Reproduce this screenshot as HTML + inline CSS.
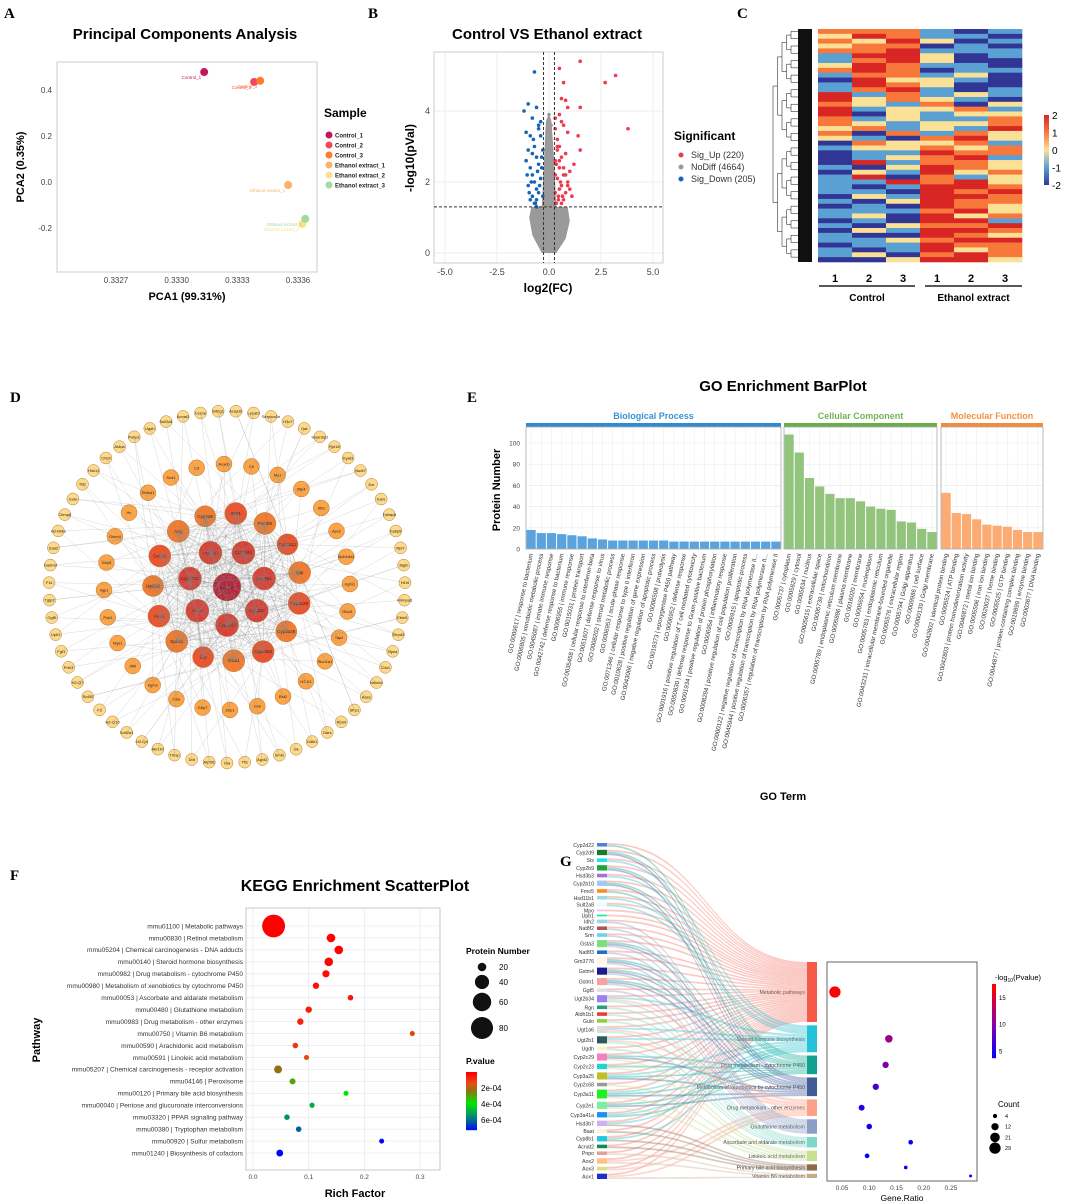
<!DOCTYPE html>
<html><head><meta charset="utf-8"><style>
html,body{margin:0;padding:0;background:#fff;}
svg{display:block;font-family:"Liberation Sans",sans-serif;}
.pl{font-family:"Liberation Serif",serif;font-weight:bold;font-size:15px;}
</style></head><body>
<svg id="s" width="1065" height="1203" viewBox="0 0 1065 1203" xmlns="http://www.w3.org/2000/svg">
<rect x="0" y="0" width="1065" height="1203" fill="#fff"/>
<text class="pl" x="4" y="18">A</text>
<text class="pl" x="368" y="18">B</text>
<text class="pl" x="737" y="18">C</text>
<text class="pl" x="10" y="402">D</text>
<text class="pl" x="467" y="402">E</text>
<text class="pl" x="10" y="880">F</text>
<text class="pl" x="560" y="866">G</text>
</svg>
<script>
// ---------- data ----------
const pcaNames=["Control_1","Control_2","Control_3","Ethanol extract_1","Ethanol extract_2","Ethanol extract_3"];
const pcaX=[0.333136,0.333383,0.333413,0.333551,0.333621,0.333636];
const pcaY=[0.478,0.435,0.440,-0.013,-0.183,-0.160];
const pcaXTicks=[0.3327,0.3330,0.3333,0.3336];
const pcaYTicks=[-0.2,0.0,0.2,0.4];

const upX=[1.5,3.2,2.7,0.5,0.7,3.8,0.6,0.8,0.9,1.5,0.5,0.6,1.4,0.7,0.4,0.9,1.5,0.5,0.3,0.8,0.6,1.2,1.0,0.4,0.5,0.7,0.9,0.3,0.6,0.8,1.1,0.4,0.5,0.7,0.35,0.45,0.6,0.3,0.9,0.5,0.4,0.7,0.3,0.55,0.8,1.0,0.35,0.65,0.45,0.3];
const upY=[5.4,5.0,4.8,5.2,4.8,3.5,4.35,4.3,4.1,4.1,3.9,3.7,3.3,3.6,3.2,3.4,2.9,3.0,3.5,2.8,2.7,2.5,2.3,2.9,2.4,2.2,2.0,2.6,1.9,1.7,1.6,2.1,1.8,1.5,1.4,1.6,1.4,2.2,1.9,2.6,3.0,2.4,1.7,2.0,2.2,1.8,2.5,1.6,1.5,3.8];
const downX=[-0.7,-1.0,-1.2,-1.1,-0.9,-0.6,-1.0,-0.8,-0.5,-0.7,-1.1,-0.4,-0.9,-0.6,-0.8,-0.5,-0.7,-0.3,-1.0,-0.6,-0.8,-0.4,-0.9,-0.5,-0.7,-0.35,-0.6,-0.8,-0.45,-1.05,-0.55,-0.3,-0.75,-0.4,-0.65,-0.95,-0.5,-0.85,-0.35,-0.6];
const downY=[5.1,4.2,4.0,3.4,3.3,4.1,2.9,3.8,3.6,3.0,2.6,3.3,2.4,2.7,2.2,2.5,2.0,2.9,1.9,1.8,1.6,2.1,1.5,1.7,1.4,2.4,1.5,2.8,1.9,2.2,2.3,1.6,3.2,3.7,1.4,1.7,3.5,2.0,2.7,1.3];
const grayX=[0.0,0.1,-0.1,0.05,-0.05,0.15,-0.15,0.2,-0.2,0.0,0.1,-0.1,0.6,-0.6,0.7,-0.7,0.5,-0.5,0.0,0.1,-0.1,0.2,-0.2,0.8,-0.8,0.05];
const grayY=[3.9,3.6,3.4,3.1,2.8,2.6,2.4,2.2,2.0,1.8,1.6,1.5,1.1,1.0,0.7,0.6,0.4,0.3,0.05,0.2,0.15,0.9,1.2,0.9,0.8,2.9];
const grayBlobX=[-0.35,-0.8,-0.95,-0.85,-0.35,-0.25,-0.15,0.0,0.12,0.25,0.35,0.9,1.0,0.8,0.35];
const grayBlobY=[0.0,0.5,1.0,1.3,1.3,2.5,3.7,3.95,3.7,2.6,1.3,1.3,0.9,0.4,0.0];
const volXTicks=[-5.0,-2.5,0.0,2.5,5.0];
const volYTicks=[0,2,4];

const heatRows=["333101","243110","324201","233010","334111","144201","134200","243110","343011","133120","042210","143200","134101",
"413121","423210","321302","412231","402122","312113","321223","231214","303132","210342","032231","122323",
"011433","012341","041332","102432","021423","140312","114342",
"101443","110434","021443","102433","010432","111342","120423","010441","102334","021443","100432","112344","011433","101423","120343","002442"];

const bpLabels=["GO:0009617 | response to bacterium","GO:0006805 | xenobiotic metabolic process","GO:0045087 | innate immune response","GO:0042742 | defense response to bacterium","GO:0006955 | immune response","GO:0015031 | protein transport","GO:0035458 | cellular response to interferon-beta","GO:0051607 | defense response to virus","GO:0008202 | steroid metabolic process","GO:0006953 | acute-phase response","GO:0071346 | cellular response to type II interferon","GO:0010628 | positive regulation of gene expression","GO:0043066 | negative regulation of apoptotic process","GO:0006508 | proteolysis","GO:0019373 | epoxygenase P450 pathway","GO:0006952 | defense response","GO:0001916 | positive regulation of T cell mediated cytotoxicity","GO:0050830 | defense response to Gram-positive bacterium","GO:0001934 | positive regulation of protein phosphorylation","GO:0006954 | inflammatory response","GO:0008284 | positive regulation of cell population proliferation","GO:0006915 | apoptotic process","GO:0000122 | negative regulation of transcription by RNA polymerase II...","GO:0045944 | positive regulation of transcription by RNA polymerase II...","GO:0006357 | regulation of transcription by RNA polymerase II"];
const bpValues=[18,15,15,14,13,12,10,9,8,8,8,8,8,8,7,7,7,7,7,7,7,7,7,7,7];
const ccLabels=["GO:0005737 | cytoplasm","GO:0005829 | cytosol","GO:0005634 | nucleus","GO:0005615 | extracellular space","GO:0005739 | mitochondrion","GO:0005789 | endoplasmic reticulum membrane","GO:0005886 | plasma membrane","GO:0016020 | membrane","GO:0005654 | nucleoplasm","GO:0005783 | endoplasmic reticulum","GO:0043231 | intracellular membrane-bounded organelle","GO:0005576 | extracellular region","GO:0005794 | Golgi apparatus","GO:0009986 | cell surface","GO:0000139 | Golgi membrane"];
const ccValues=[108,91,67,59,52,48,48,45,40,38,37,26,25,19,16];
const mfLabels=["GO:0042802 | identical protein binding","GO:0005524 | ATP binding","GO:0042803 | protein homodimerization activity","GO:0046872 | metal ion binding","GO:0005506 | iron ion binding","GO:0020037 | heme binding","GO:0005525 | GTP binding","GO:0044877 | protein-containing complex binding","GO:0019899 | enzyme binding","GO:0003677 | DNA binding"];
const mfValues=[53,34,33,28,23,22,21,18,16,16];
const goYTicks=[0,20,40,60,80,100];

const keggLabels=["mmu01100 | Metabolic pathways","mmu00830 | Retinol metabolism","mmu05204 | Chemical carcinogenesis - DNA adducts","mmu00140 | Steroid hormone biosynthesis","mmu00982 | Drug metabolism - cytochrome P450","mmu00980 | Metabolism of xenobiotics by cytochrome P450","mmu00053 | Ascorbate and aldarate metabolism","mmu00480 | Glutathione metabolism","mmu00983 | Drug metabolism - other enzymes","mmu00750 | Vitamin B6 metabolism","mmu00590 | Arachidonic acid metabolism","mmu00591 | Linoleic acid metabolism","mmu05207 | Chemical carcinogenesis - receptor activation","mmu04146 | Peroxisome","mmu00120 | Primary bile acid biosynthesis","mmu00040 | Pentose and glucuronate interconversions","mmu03320 | PPAR signaling pathway","mmu00380 | Tryptophan metabolism","mmu00920 | Sulfur metabolism","mmu01240 | Biosynthesis of cofactors"];
const keggRich=[0.037,0.14,0.154,0.136,0.131,0.113,0.175,0.1,0.085,0.286,0.076,0.096,0.045,0.071,0.167,0.106,0.061,0.082,0.231,0.048];
const keggCount=[85,20,20,20,16,14,12,14,14,8,12,11,18,13,10,11,12,12,9,15];
const keggP=[0.000001,0.000005,0.000008,0.00001,0.00002,0.00003,0.00004,0.00005,0.00006,0.0001,0.00009,0.00012,0.00022,0.00029,0.00038,0.00048,0.00053,0.0006,0.00071,0.00072];
const keggXTicks=[0.0,0.1,0.2,0.3];
const sizeLegend=[20,40,60,80];
const pLegend=[0.0002,0.0004,0.0006];

const pathNames=["Metabolic pathways","Steroid hormone biosynthesis","Drug metabolism - cytochrome P450","Metabolism of xenobiotics by cytochrome P450","Drug metabolism - other enzymes","Glutathione metabolism","Ascorbate and aldarate metabolism","Linoleic acid metabolism","Primary bile acid biosynthesis","Vitamin B6 metabolism"];
const pathCount=[29,13,9,9,8,7,5,5,3,2];
const pathRatio=[0.037,0.136,0.13,0.112,0.086,0.1,0.176,0.096,0.167,0.286];
const pathLogP=[17,11.5,9.5,7,5,4.5,4.2,4,3.8,3.7];
const geneNames=["Cyp2d22","Cyp2d9","Sts","Cyp2b9","Hsd3b3","Cyp2b10","Fmo5","Hsd11b1","Sult2a8","Mpo","Upb1","Idh2","Nat8f2","Srm","Gsta3","Nat8f3","Gm3776","Gstm4","Gstm1","Ggt5","Ugt2b34","Rgn","Aldh1b1","Gulo","Ugt1a6","Ugt2b1","Ugdh","Cyp2c29","Cyp2c23","Cyp3a25","Cyp2c68","Cyp3a11","Cyp2e1","Cyp3a41a","Hsd3b7","Baat","Cyp8b1","Acnat2","Pnpo","Aox2","Aox3","Aox1"];
const geneLinks=[[0,2],[0,2,3],[0,1],[0,2,3],[0,1],[0,2,3],[0,2],[0,1],[0,1],[0],[0],[0,5],[0,5],[0,5],[0,2,3,5],[0,5],[0,2,3,5],[0,2,3,5],[0,2,3,5],[0,5],[0,1,4,6],[0,6],[0,6],[0,6],[0,1,4,6],[0,1,4,6],[0,6],[0,2,3,7],[0,2,7],[0,1,2,3],[0,7],[0,1,2,3,7],[0,2,3,7],[0,1,2],[0,1,8],[0,8],[0,1,8],[0,8],[0,9],[0,4,9],[0,4],[0,4,9]];
const gXTicks=[0.05,0.10,0.15,0.20,0.25];
const countLegend=[4,12,21,29];
const logPTicks=[5,10,15];

const netCenter=["Ugt2b1"];
const netRing1=["Ugt1a5","Cyp3a11","Cyp2e1","Cyp2b9","Cyp2c23","Aox1","Cyp2b10"];
const netRing2=["Cyp2a5","Stat1","Psmb9","Cyp2a12","Igtp","Cyp2c29","Cyp3a25","Cyp2d68","Gsta1","Crp","Ephx1","Aox3","Ugt3a2","Gstm1","Acly"];
const netRing3=["C9","Me1","Rtp4","Ifit3","Apcs","Aldh18a1","Irgm1","Glud1","Tap2","Slco1a1","H2-K1","Bst2","Gck","Zbp1","Gbp7","C8a","Irgm2","Ifit4","Nqo1","Pck1","Iigp1","Gbp5","Gstm4","Hc","Dhtkd1","Scd1","C3","Acacb"];
const netOuter=["Acaa1b","Lpcat3","Serpina3n","H3c7","Oat","Selenbp2","Rpl18","Kyat3","Nudt7","Ezr","Kars","Tnfaip8","Fabp5","Rpl7","Tagln","H1f4","Hnrnpa3","Fbln5","Srrpd3","Nyna","Cdo1","Ndufa1","Aass","Sfrp1","Rpmf","Dars","Galk1","Gk","Smtn","Agxt2","Tfrc","Gla","Atp5f1","Ddt","Thrsp","Akr1b7","H2-Q4","Sult2a1","H2-Q10","F3","Rpl30","H2-Q7","Prtn3","Fgf1","Upb1","Ggt5","Tgtp1","F11","Gadmd","Saa2","H2-DMa","Cbmp6","Gulo","Tsfc","H4c11","Chi3l","Aldoa","Pebp1","Ugdh","Sult3a1","Acnat2","Ces1e","Sdhg1"];

// ---------- helpers ----------
const NS='http://www.w3.org/2000/svg';
const svg=document.getElementById('s');
function mk(tag,attrs,parent,txt){const e=document.createElementNS(NS,tag);for(const k in attrs)e.setAttribute(k,attrs[k]);if(txt!==undefined)e.textContent=txt;(parent||svg).appendChild(e);return e;}
function grp(name){const g=mk('g',{});


return g;}
function lerp(a,b,t){return a+(b-a)*t;}
function hex(c){return '#'+c.map(v=>Math.round(Math.max(0,Math.min(255,v))).toString(16).padStart(2,'0')).join('');}
function grad(stops,t){t=Math.max(0,Math.min(1,t));for(let i=0;i<stops.length-1;i++){if(t<=stops[i+1][0]){const u=(t-stops[i][0])/(stops[i+1][0]-stops[i][0]);return hex([0,1,2].map(k=>lerp(stops[i][1][k],stops[i+1][1][k],u)));}}return hex(stops[stops.length-1][1]);}

// ---------- Panel A: PCA ----------
(function(){
const g=grp('pca-panel');
const x=v=>116+(v-0.3327)/0.0003*60.67, y=v=>182-v*230;
const pcaCols=['#c2185b','#f04a5a','#ff7a30','#f9b268','#fde08a','#9fdc9e'];
let t=mk('text',{x:185,y:39,'text-anchor':'middle','font-size':15,'font-weight':'bold'},g,'Principal Components Analysis');


let b=mk('rect',{x:57,y:62,width:260,height:210,fill:'none',stroke:'#ccc','stroke-width':1},g);


pcaXTicks.forEach(v=>{const e=mk('text',{x:x(v),y:283,'text-anchor':'middle','font-size':8,fill:'#444'},g,v.toFixed(4));

});
pcaYTicks.forEach(v=>{const e=mk('text',{x:52,y:y(v)+3,'text-anchor':'end','font-size':8,fill:'#444'},g,v.toFixed(1));

});
t=mk('text',{x:187,y:300,'text-anchor':'middle','font-size':11,'font-weight':'bold'},g,'PCA1 (99.31%)');


t=mk('text',{x:0,y:0,'text-anchor':'middle','font-size':11,'font-weight':'bold',transform:'translate(24,167) rotate(-90)'},g,'PCA2 (0.35%)');


pcaX.forEach((v,i)=>{const c=mk('circle',{cx:x(v),cy:y(pcaY[i]),r:4,fill:pcaCols[i]},g);


const l=mk('text',{x:x(v)-3,y:y(pcaY[i])+7,'text-anchor':'end','font-size':4.5,fill:pcaCols[i]},g,pcaNames[i]);

});
t=mk('text',{x:324,y:117,'font-size':12,'font-weight':'bold'},g,'Sample');


pcaNames.forEach((n,i)=>{const c=mk('circle',{cx:329,cy:135+i*10,r:3.5,fill:pcaCols[i]},g);


const l=mk('text',{x:335,y:137.5+i*10,'font-size':6,'font-weight':'bold',fill:'#222'},g,n);

});
})();

// ---------- Panel B: volcano ----------
(function(){
const g=grp('volcano-panel');
const x=v=>549+v*20.8, y=v=>253-v*35.5;
let t=mk('text',{x:547,y:39,'text-anchor':'middle','font-size':15,'font-weight':'bold'},g,'Control VS Ethanol extract');


volXTicks.forEach(v=>{const l=mk('line',{x1:x(v),x2:x(v),y1:52,y2:263,stroke:'#eee'},g);


const e=mk('text',{x:x(v),y:275,'text-anchor':'middle','font-size':9,fill:'#444'},g,v.toFixed(1));

});
volYTicks.forEach(v=>{const l=mk('line',{x1:434,x2:663,y1:y(v),y2:y(v),stroke:'#eee'},g);


const e=mk('text',{x:430,y:y(v)+3,'text-anchor':'end','font-size':9,fill:'#444'},g,String(v));

});
let b=mk('rect',{x:434,y:52,width:229,height:211,fill:'none',stroke:'#ccc'},g);


const blob=mk('polygon',{points:grayBlobX.map((v,i)=>x(v)+','+y(grayBlobY[i])).join(' '),fill:'#9a9a9a'},g);


grayX.forEach((v,i)=>{const c=mk('circle',{cx:x(v),cy:y(grayY[i]),r:1.8,fill:'#9a9a9a'},g);

});
upX.forEach((v,i)=>{const c=mk('circle',{cx:x(v),cy:y(upY[i]),r:1.8,fill:'#f0384f'},g);

});
downX.forEach((v,i)=>{const c=mk('circle',{cx:x(v),cy:y(downY[i]),r:1.8,fill:'#1565b8'},g);

});
[-0.263,0.263].forEach(v=>{const l=mk('line',{x1:x(v),x2:x(v),y1:52,y2:263,stroke:'#333','stroke-dasharray':'3,2'},g);

});
let h=mk('line',{x1:434,x2:663,y1:y(1.3),y2:y(1.3),stroke:'#333','stroke-dasharray':'3,2'},g);


t=mk('text',{x:548,y:292,'text-anchor':'middle','font-size':12,'font-weight':'bold'},g,'log2(FC)');


t=mk('text',{x:0,y:0,'text-anchor':'middle','font-size':12,'font-weight':'bold',transform:'translate(414,158) rotate(-90)'},g,'-log10(pVal)');


t=mk('text',{x:674,y:140,'font-size':12,'font-weight':'bold'},g,'Significant');


[['Sig_Up (220)','#f0384f'],['NoDiff (4664)','#9a9a9a'],['Sig_Down (205)','#1565b8']].forEach((d,i)=>{const c=mk('circle',{cx:681,cy:155+i*12,r:2.5,fill:d[1]},g);


const l=mk('text',{x:691,y:158+i*12,'font-size':9,fill:'#333'},g,d[0]);

});
})();

// ---------- Panel C: heatmap ----------
(function(){
const g=grp('heatmap-panel');
const col=v=>grad([[0,[49,54,149]],[0.25,[90,160,210]],[0.5,[250,225,150]],[0.75,[248,120,60]],[1,[215,38,35]]],(v+2)/4);
const x0=818,cw=34,y0=29,rh=233/heatRows.length;
heatRows.forEach((r,i)=>{for(let j=0;j<6;j++){const v=parseInt(r[j])-2;const c=mk('rect',{x:x0+j*cw,y:y0+i*rh,width:cw+0.3,height:rh+0.3,fill:col(v)},g);

}});
const dg=grp('row-dendrogram');
function tree(a,b,d){const xx=773+d*4.5;if(b-a<=2||d>=5){mk('line',{x1:xx,x2:798,y1:y0+(a+b)/2*rh,y2:y0+(a+b)/2*rh,stroke:'#333','stroke-width':0.6},dg);return y0+(a+b)/2*rh;}
const m=Math.floor((a+b)/2);const y1=tree(a,m,d+1),y2=tree(m,b,d+1);
mk('line',{x1:xx,x2:xx,y1:y1,y2:y2,stroke:'#333','stroke-width':0.6},dg);
mk('line',{x1:xx,x2:773+(d+1)*4.5,y1:y1,y2:y1,stroke:'#333','stroke-width':0.6},dg);
mk('line',{x1:xx,x2:773+(d+1)*4.5,y1:y2,y2:y2,stroke:'#333','stroke-width':0.6},dg);
return (y1+y2)/2;}
tree(0,heatRows.length,0);
const blk=mk('rect',{x:798,y:y0,width:14,height:233,fill:'#111'},dg);


['1','2','3','1','2','3'].forEach((n,j)=>{const t=mk('text',{x:x0+j*cw+cw/2,y:282,'text-anchor':'middle','font-size':11,'font-weight':'bold'},g,n);

});
[[819,915,'Control'],[925,1022,'Ethanol extract']].forEach(d=>{const l=mk('line',{x1:d[0],x2:d[1],y1:286,y2:286,stroke:'#222','stroke-width':1.5},g);


const t=mk('text',{x:(d[0]+d[1])/2,y:301,'text-anchor':'middle','font-size':10,'font-weight':'bold'},g,d[2]);

});
const defs=mk('defs',{},g);const lg=mk('linearGradient',{id:'hg',x1:0,y1:0,x2:0,y2:1},defs);
[[0,'#d72623'],[0.25,'#f8783c'],[0.5,'#fae196'],[0.75,'#5aa0d2'],[1,'#313695']].forEach(s=>mk('stop',{offset:s[0],'stop-color':s[1]},lg));
const cb=mk('rect',{x:1044,y:115,width:5,height:70,fill:'url(#hg)'},g);


['2','1','0','-1','-2'].forEach((n,i)=>{const t=mk('text',{x:1052,y:119+i*17.5,'font-size':10},g,n);

});
})();

// ---------- Panel D: network ----------
(function(){
const g=grp('network-panel');
const cx=227,cy=587;const nodes=[];
nodes.push({n:netCenter[0],x:cx,y:cy,r:14,c:'#c80f2a'});
netRing1.forEach((n,i)=>{const a=-Math.PI/2-0.45+i*2*Math.PI/netRing1.length;nodes.push({n,x:cx+38*Math.cos(a),y:cy+38*Math.sin(a),r:11.5,c:'#e8392c'});});
netRing2.forEach((n,i)=>{const a=-Math.PI/2-0.3+i*2*Math.PI/netRing2.length;nodes.push({n,x:cx+74*Math.cos(a),y:cy+74*Math.sin(a),r:i%3==0?10.5:11,c:i%2?'#f0532c':'#f57d30'});});
netRing3.forEach((n,i)=>{const a=-Math.PI/2+0.2+i*2*Math.PI/netRing3.length;nodes.push({n,x:cx+123*Math.cos(a),y:cy+123*Math.sin(a),r:8,c:'#fca548'});});
netOuter.forEach((n,i)=>{const a=-Math.PI/2+0.05+i*2*Math.PI/netOuter.length;nodes.push({n,x:cx+178*Math.cos(a),y:cy+176*Math.sin(a),r:6,c:'#fdda8a'});});
const eg=grp('network-edges');const N=nodes.length;const inner=1+netRing1.length+netRing2.length;
let d='';
for(let i=0;i<inner;i++)for(let j=i+1;j<inner;j++)d+=`M${nodes[i].x.toFixed(1)},${nodes[i].y.toFixed(1)}L${nodes[j].x.toFixed(1)},${nodes[j].y.toFixed(1)}`;
for(let i=inner;i<N;i++){[ (i*7)%inner, (i*11+3)%inner ].forEach(j=>{d+=`M${nodes[i].x.toFixed(1)},${nodes[i].y.toFixed(1)}L${nodes[j].x.toFixed(1)},${nodes[j].y.toFixed(1)}`;});}
const ep=mk('path',{d,stroke:'#888','stroke-width':0.4,'stroke-opacity':0.4,fill:'none'},eg);


nodes.forEach(o=>{const c=mk('circle',{cx:o.x,cy:o.y,r:o.r,fill:o.c,stroke:'#b57a3a','stroke-width':0.5},g);


const t=mk('text',{x:o.x,y:o.y+1.5,'text-anchor':'middle','font-size':o.r>9?4.5:4,fill:'#222'},g,o.n);

});
})();

// ---------- Panel E: GO bar ----------
(function(){
const g=grp('go-barplot-panel');
const y=v=>549-v*1.06, pitch=10.2;
let t=mk('text',{x:783,y:391,'text-anchor':'middle','font-size':15,'font-weight':'bold'},g,'GO Enrichment BarPlot');


const facets=[['Biological Process',526,bpLabels,bpValues,'#2e8bcf','#5aa3dc','#3a93d0'],['Cellular Component',784,ccLabels,ccValues,'#6aae4a','#93c47d','#73b355'],['Molecular Function',941,mfLabels,mfValues,'#f58a3a','#fcab72','#f6913f']];
facets.forEach(f=>{const w=f[3].length*pitch;const fx=f[1];
const st=mk('text',{x:fx+w/2,y:419,'text-anchor':'middle','font-size':9,'font-weight':'bold',fill:f[6]},g,f[0]);


const sb=mk('rect',{x:fx,y:423,width:w,height:4,fill:f[4]},g);


goYTicks.forEach(v=>{mk('line',{x1:fx,x2:fx+w,y1:y(v),y2:y(v),stroke:'#e8e8e8','stroke-width':0.6},g);});
f[3].forEach((v,i)=>{mk('line',{x1:fx+(i+0.5)*pitch,x2:fx+(i+0.5)*pitch,y1:427,y2:549,stroke:'#eee','stroke-width':0.6},g);});
f[3].forEach((v,i)=>{const r=mk('rect',{x:fx+i*pitch+0.5,y:y(v),width:pitch-1,height:v*1.06,fill:f[5]},g);


const lx=fx+(i+0.5)*pitch+2,ly=554;
const l=mk('text',{x:lx,y:ly,'text-anchor':'end','font-size':6.2,fill:'#333',transform:`rotate(-78 ${lx} ${ly})`},g,f[2][i]);

});
const pb=mk('rect',{x:fx,y:427,width:w,height:122,fill:'none',stroke:'#aaa','stroke-width':0.8},g);

});
goYTicks.forEach(v=>{const e=mk('text',{x:520,y:y(v)+2.5,'text-anchor':'end','font-size':6.5,fill:'#444'},g,String(v));

});
t=mk('text',{x:0,y:0,'text-anchor':'middle','font-size':11,'font-weight':'bold',transform:'translate(500,490) rotate(-90)'},g,'Protein Number');


t=mk('text',{x:783,y:800,'text-anchor':'middle','font-size':11,'font-weight':'bold'},g,'GO Term');


})();

// ---------- Panel F: KEGG scatter ----------
(function(){
const g=grp('kegg-scatter-panel');
const x=v=>253+v*557, y=i=>926+i*11.95, rr=n=>Math.max(2.5,1.5*Math.sqrt(n)-2.4);
const pcol=p=>grad([[0,[255,0,0]],[0.18,[230,80,20]],[0.3,[150,110,20]],[0.52,[0,230,0]],[0.75,[0,140,110]],[1,[0,0,255]]],p/0.000725);
let t=mk('text',{x:355,y:891,'text-anchor':'middle','font-size':16,'font-weight':'bold'},g,'KEGG Enrichment ScatterPlot');


keggXTicks.forEach(v=>{mk('line',{x1:x(v),x2:x(v),y1:908,y2:1170,stroke:'#ebebeb','stroke-width':0.8},g);
const e=mk('text',{x:x(v),y:1179,'text-anchor':'middle','font-size':6.5,fill:'#444'},g,v.toFixed(1));

});
keggLabels.forEach((n,i)=>{mk('line',{x1:246,x2:440,y1:y(i),y2:y(i),stroke:'#ebebeb','stroke-width':0.8},g);
const e=mk('text',{x:243,y:y(i)+2.3,'text-anchor':'end','font-size':6.6,fill:'#333'},g,n);

});
const pb=mk('rect',{x:246,y:908,width:194,height:262,fill:'none',stroke:'#bbb','stroke-width':0.8},g);


keggRich.forEach((v,i)=>{const c=mk('circle',{cx:x(v),cy:y(i),r:rr(keggCount[i]),fill:pcol(keggP[i])},g);

});
t=mk('text',{x:355,y:1197,'text-anchor':'middle','font-size':11,'font-weight':'bold'},g,'Rich Factor');


t=mk('text',{x:0,y:0,'text-anchor':'middle','font-size':11,'font-weight':'bold',transform:'translate(40,1040) rotate(-90)'},g,'Pathway');


t=mk('text',{x:466,y:954,'font-size':8.5,'font-weight':'bold'},g,'Protein Number');


const ly=[967,982,1002,1028];
sizeLegend.forEach((v,i)=>{const c=mk('circle',{cx:482,cy:ly[i],r:rr(v),fill:'#111'},g);


const e=mk('text',{x:499,y:ly[i]+3,'font-size':8},g,String(v));

});
t=mk('text',{x:466,y:1064,'font-size':8.5,'font-weight':'bold'},g,'P.value');


for(let k=0;k<29;k++){mk('rect',{x:466,y:1072+k*2,width:11,height:2.2,fill:pcol(k/29*0.000725)},g);}
pLegend.forEach(v=>{const yy=1072+v/0.000725*58;const e=mk('text',{x:481,y:yy+3,'font-size':8},g,(v*10000).toFixed(0)+'e-04');

});
})();

// ---------- Panel G: sankey + dotplot ----------
(function(){
const g=grp('sankey-panel');
const pathCols=['#f55a48','#22c3d9','#10a190','#3e5c96','#fca189','#8c9dc6','#7ed7c6','#c8e08f','#8d6a4a','#c7a98b'];
const flowCols=['#f7877a','#4dcad6','#2fb5a5','#5a74a8','#fcae98','#9aaacb','#8fdccb','#cfe3a6','#a0826a','#d4bca4'];
const leftCols=['#4f7fd6','#1b7a2d','#19e3f0','#1aa83a','#a86fd4','#a9c8f0','#ff8c1a','#9fd8e8','#eefaff','#f4c4e4','#18f0a0','#9ad8e8','#a65a50','#6ad0f0','#7de07d','#1a72c0','#fff5ea','#1b1b8f','#f9a0a0','#e0e0e0','#9b80f5','#20a080','#f03a3a','#8ad040','#dddddd','#2a5a5a','#fff0c0','#f77fc0','#1ad8d0','#c0c020','#9a9a9a','#20f020','#7af09a','#2090f0','#d0b0f0','#fff0d0','#20c8e0','#108a50','#e0a0a0','#ffc080','#d8e080','#1a30c8'];
const unitL=1.78, gapL=(336-geneLinks.reduce((s,l)=>s+l.length,0)*unitL)/(geneNames.length-1);
const unitR=2.07, gapR=(216-pathCount.reduce((s,v)=>s+v,0)*unitR)/(pathNames.length-1);
const pTop=[];let yy=962;pathCount.forEach((c,i)=>{pTop.push(yy);yy+=c*unitR+gapR;});
const gTop=[];yy=843;geneLinks.forEach(l=>{gTop.push(yy);yy+=l.length*unitL+gapL;});
const inc=pathNames.map(()=>[]);geneLinks.forEach((l,gi)=>l.forEach((p,k)=>inc[p].push([gi,k])));
const fg=grp('sankey-flows');
inc.forEach((lst,p)=>{const w=pathCount[p]*unitR/lst.length;lst.forEach(([gi,k],m)=>{
const a0=gTop[gi]+k*unitL,a1=a0+unitL,b0=pTop[p]+m*w,b1=b0+w;
const f=mk('path',{d:`M607,${a0}C707,${a0} 707,${b0} 807,${b0}L807,${b1}C707,${b1} 707,${a1} 607,${a1}Z`,fill:flowCols[p],'fill-opacity':0.45},fg);

});});
geneNames.forEach((n,i)=>{const h=geneLinks[i].length*unitL;const r=mk('rect',{x:597,y:gTop[i],width:10,height:h,fill:leftCols[i%leftCols.length]},g);


const t=mk('text',{x:594,y:gTop[i]+h/2+2,'text-anchor':'end','font-size':5.2,fill:'#333'},g,n);

});
pathNames.forEach((n,i)=>{const h=pathCount[i]*unitR;const r=mk('rect',{x:807,y:pTop[i],width:10,height:h,fill:pathCols[i]},g);


const t=mk('text',{x:805,y:pTop[i]+h/2+2,'text-anchor':'end','font-size':5.2,fill:'#333'},g,n);

});
const dg=grp('gene-ratio-dotplot');
const x=v=>842+(v-0.05)*545, rr=c=>1.05*Math.sqrt(c);
const lc=v=>grad([[0,[0,0,255]],[0.5,[140,0,160]],[1,[255,0,0]]],(v-3.7)/13.5);
const pb=mk('rect',{x:827,y:962,width:150,height:219,fill:'#fff',stroke:'#666','stroke-width':1},dg);


gXTicks.forEach(v=>{const e=mk('text',{x:x(v),y:1190,'text-anchor':'middle','font-size':6.5,fill:'#444'},dg,v.toFixed(2));

});
pathRatio.forEach((v,i)=>{const c=mk('circle',{cx:x(v),cy:pTop[i]+pathCount[i]*unitR/2,r:rr(pathCount[i]),fill:lc(pathLogP[i])},dg);

});
let t=mk('text',{x:902,y:1201,'text-anchor':'middle','font-size':8.5},dg,'Gene.Ratio');


t=mk('text',{x:995,y:980,'font-size':7.5},dg,'-log');


mk('tspan',{'font-size':5,dy:2},t,'10');mk('tspan',{'font-size':7.5,dy:-2},t,'(Pvalue)');
for(let k=0;k<37;k++){mk('rect',{x:992,y:984+k*2,width:4,height:2.2,fill:lc(17.5-k/37*13.8)},dg);}
logPTicks.forEach(v=>{const e=mk('text',{x:999,y:984+(17.5-v)/13.8*74+2.5,'font-size':6},dg,String(v));

});
t=mk('text',{x:998,y:1107,'font-size':8},dg,'Count');


countLegend.forEach((v,i)=>{const c=mk('circle',{cx:995,cy:1116+i*10.7,r:rr(v),fill:'#000'},dg);


const e=mk('text',{x:1005,y:1118+i*10.7,'font-size':5.5},dg,String(v));

});
})();
</script>
</body></html>
